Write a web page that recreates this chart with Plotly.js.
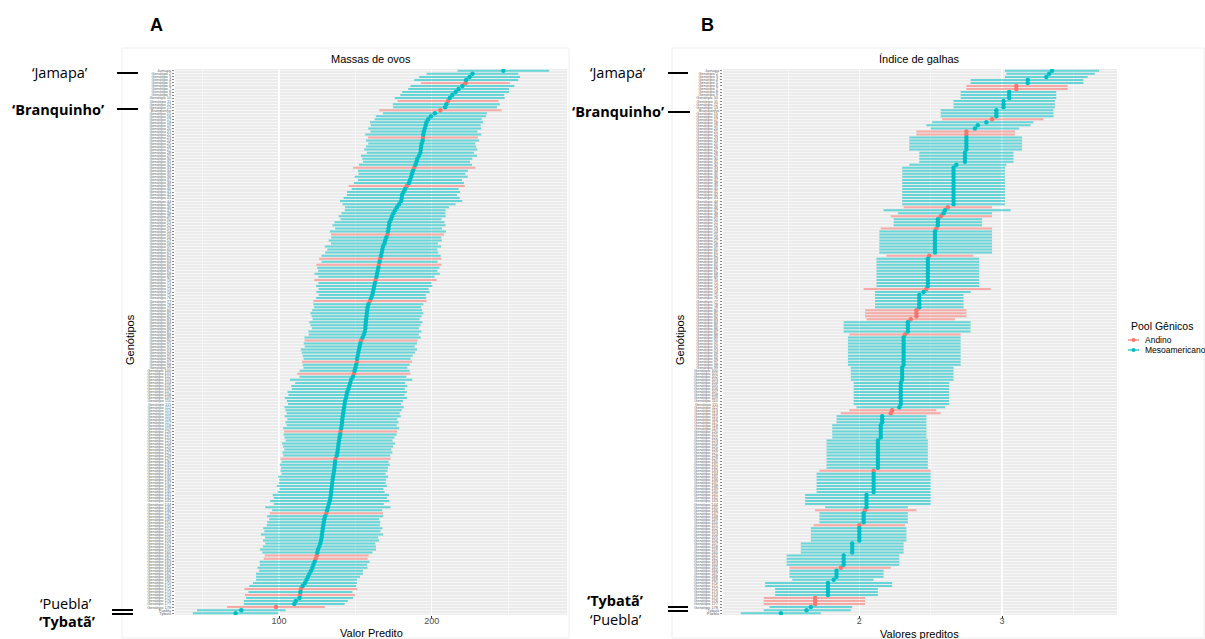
<!DOCTYPE html>
<html>
<head>
<meta charset="utf-8">
<script src="https://cdn.plot.ly/plotly-3.0.1.min.js"></script>
<style>html,body{margin:0;padding:0;background:#fff;}#chart{width:1205px;height:639px;}</style>
</head>
<body>
<div id="chart"></div>
<script>
// ---------- Painel A: Massas de ovos (valor predito e semi-amplitude do intervalo) ----------
const valoresA = [
 246.8,226.6,224.7,222.5,222.0,220.0,217.5,215.6,213.4,211.7,
 210.6,209.5,208.7,205.6,202.0,199.4,197.6,196.5,196.0,195.4,
 194.8,194.4,194.2,194.0,193.4,193.0,192.8,192.5,191.6,190.5,
 190.0,189.3,188.5,187.7,187.0,186.5,185.7,185.0,183.6,182.5,
 181.5,180.5,180.3,179.9,178.5,177.2,176.0,174.9,174.0,173.3,
 172.3,172.0,171.7,171.3,171.0,170.2,169.5,169.0,168.0,167.6,
 167.2,166.8,166.2,165.8,165.4,165.0,164.6,164.2,163.8,163.2,
 162.8,162.3,161.9,161.5,161.0,160.3,159.5,158.5,158.0,157.7,
 157.5,157.3,157.0,156.8,156.6,156.5,156.2,155.5,154.7,153.7,
 153.2,152.8,152.3,151.9,151.5,151.1,151.0,150.5,150.0,149.5,
 149.0,148.4,147.2,146.6,146.0,145.4,144.6,144.2,143.8,143.2,
 142.9,142.6,142.3,142.0,141.7,141.4,141.2,141.0,140.7,140.3,
 140.0,139.6,139.3,139.0,138.7,138.5,138.2,137.8,137.0,136.7,
 136.5,136.3,136.0,135.7,135.4,135.1,134.8,134.6,134.3,134.1,
 133.9,133.6,133.2,132.6,132.0,131.5,131.0,130.2,129.6,129.3,
 129.0,128.7,128.4,128.1,127.9,127.5,127.0,126.4,125.5,125.1,
 124.7,124.0,123.3,122.5,121.9,121.0,119.9,119.0,118.0,117.0,
 115.5,114.3,114.0,113.7,113.4,111.0,110.0,98.0,75.3,71.6
];
const erroA = [
 30,30,33,34,29,34,33,35,34,36,
 33,35,34,40,34,36,35,37,36,37,
 35,38,36,37,35,36,37,35,38,36,
 35,37,40,36,35,37,34,36,38,35,
 37,36,38,40,37,34,33,34,35,33,
 36,37,35,38,37,36,37,35,38,36,
 37,39,40,38,41,40,39,41,38,40,
 37,38,36,37,35,36,37,36,35,36,
 37,36,35,37,36,35,37,36,38,37,
 37,36,38,37,36,35,36,35,34,36,
 37,35,40,36,38,37,39,38,40,38,
 37,39,38,37,38,36,37,36,38,37,
 37,36,35,37,36,35,36,35,36,35,
 36,35,35,34,36,35,35,36,34,35,
 38,37,39,36,41,36,37,38,36,37,
 37,39,38,40,37,38,36,37,38,36,
 34,34,36,35,36,34,35,34,33,34,
 35,37,34,36,35,34,33,32,29,28
];
const poolA = [
 'M','M','M','M','A','M','M','M','M','M',
 'A','M','M','A','M','M','M','M','M','M',
 'M','M','A','M','M','M','M','M','M','M',
 'M','M','A','M','M','M','M','M','A','M',
 'M','M','M','M','M','M','M','M','M','M',
 'M','M','M','M','A','M','M','M','M','M',
 'M','M','A','M','A','M','M','M','M','A',
 'M','M','M','M','M','M','A','M','M','M',
 'M','M','M','M','M','M','M','M','M','A',
 'M','M','M','M','M','M','A','M','M','M',
 'A','M','M','M','M','M','M','M','M','M',
 'M','M','M','M','M','M','M','M','M','A',
 'M','M','M','M','M','M','M','M','A','M',
 'M','M','M','M','M','M','M','M','M','M',
 'M','M','M','M','M','M','A','M','M','M',
 'M','M','M','M','M','M','M','M','M','M',
 'A','A','M','M','M','M','M','M','M','M',
 'M','A','M','A','M','M','M','A','M','M'
];
const nomesA = {0: 'Jamapa', 13: 'Branquinho', 178: 'Puebla', 179: 'Tybatã'};

// ---------- Painel B: Índice de galhas (valor predito, limite inferior e superior) ----------
const valoresB = [
 3.35,3.33,3.31,3.18,3.18,3.10,3.10,3.05,3.05,3.05,
 3.01,3.01,3.01,2.96,2.96,2.96,2.93,2.89,2.83,2.81,
 2.75,2.75,2.75,2.75,2.75,2.75,2.75,2.74,2.74,2.74,
 2.74,2.68,2.66,2.66,2.66,2.66,2.66,2.66,2.66,2.66,
 2.66,2.66,2.66,2.66,2.66,2.62,2.60,2.59,2.57,2.55,
 2.55,2.55,2.54,2.53,2.53,2.53,2.53,2.53,2.53,2.53,
 2.53,2.49,2.48,2.48,2.48,2.48,2.48,2.48,2.48,2.48,
 2.48,2.48,2.47,2.45,2.42,2.42,2.42,2.42,2.42,2.40,
 2.40,2.40,2.36,2.34,2.34,2.34,2.34,2.32,2.31,2.31,
 2.31,2.31,2.31,2.31,2.31,2.31,2.31,2.31,2.30,2.30,
 2.30,2.30,2.30,2.29,2.29,2.29,2.29,2.29,2.29,2.29,
 2.29,2.28,2.23,2.22,2.16,2.16,2.16,2.15,2.15,2.15,
 2.15,2.15,2.13,2.13,2.13,2.13,2.13,2.13,2.13,2.13,
 2.13,2.13,2.10,2.10,2.10,2.10,2.10,2.10,2.10,2.10,
 2.05,2.05,2.05,2.05,2.05,2.04,2.03,2.03,2.03,2.03,
 2.00,2.00,2.00,2.00,2.00,2.00,1.95,1.95,1.95,1.95,
 1.89,1.89,1.89,1.89,1.87,1.84,1.84,1.84,1.82,1.78,
 1.78,1.78,1.78,1.78,1.69,1.69,1.69,1.66,1.63,1.45
];
const infB = [
 3.02,3.03,3.02,2.78,2.78,2.75,2.75,2.71,2.71,2.71,
 2.66,2.66,2.66,2.57,2.57,2.57,2.58,2.51,2.47,2.50,
 2.40,2.40,2.35,2.35,2.35,2.35,2.35,2.42,2.42,2.42,
 2.42,2.35,2.30,2.30,2.30,2.30,2.30,2.30,2.30,2.30,
 2.30,2.30,2.30,2.30,2.30,2.31,2.17,2.27,2.22,2.24,
 2.24,2.24,2.15,2.14,2.14,2.14,2.14,2.14,2.14,2.14,
 2.14,2.19,2.12,2.12,2.12,2.12,2.12,2.12,2.12,2.12,
 2.12,2.12,2.03,2.11,2.11,2.11,2.11,2.11,2.11,2.04,
 2.04,2.04,2.05,1.89,1.89,1.89,1.89,1.93,1.92,1.92,
 1.92,1.92,1.92,1.92,1.92,1.92,1.92,1.92,1.94,1.94,
 1.94,1.94,1.94,1.96,1.96,1.96,1.96,1.96,1.96,1.96,
 1.96,1.98,1.93,1.87,1.84,1.84,1.84,1.81,1.81,1.81,
 1.81,1.81,1.77,1.77,1.77,1.77,1.77,1.77,1.77,1.77,
 1.77,1.77,1.72,1.70,1.70,1.70,1.70,1.70,1.70,1.70,
 1.62,1.62,1.62,1.62,1.76,1.69,1.72,1.72,1.72,1.72,
 1.68,1.66,1.66,1.66,1.66,1.66,1.59,1.59,1.59,1.59,
 1.49,1.49,1.49,1.49,1.51,1.51,1.51,1.51,1.53,1.34,
 1.34,1.41,1.41,1.41,1.33,1.33,1.33,1.37,1.33,1.17
];
const supB = [
 3.68,3.65,3.60,3.57,3.57,3.46,3.46,3.38,3.38,3.38,
 3.37,3.37,3.37,3.36,3.36,3.36,3.29,3.22,3.20,3.12,
 3.09,3.09,3.14,3.14,3.14,3.14,3.14,3.08,3.08,3.08,
 3.08,3.03,3.02,3.02,3.02,3.02,3.02,3.02,3.02,3.02,
 3.02,3.02,3.02,3.02,3.02,2.93,3.06,2.93,2.93,2.86,
 2.86,2.86,2.93,2.93,2.93,2.93,2.93,2.93,2.93,2.93,
 2.93,2.80,2.84,2.84,2.84,2.84,2.84,2.84,2.84,2.84,
 2.84,2.84,2.92,2.78,2.73,2.73,2.73,2.73,2.73,2.75,
 2.75,2.75,2.67,2.78,2.78,2.78,2.78,2.71,2.71,2.71,
 2.71,2.71,2.71,2.71,2.71,2.71,2.71,2.71,2.66,2.66,
 2.66,2.66,2.66,2.63,2.63,2.63,2.63,2.63,2.63,2.63,
 2.63,2.60,2.54,2.57,2.47,2.47,2.47,2.47,2.47,2.47,
 2.47,2.47,2.48,2.48,2.48,2.48,2.48,2.48,2.48,2.48,
 2.48,2.48,2.50,2.50,2.50,2.50,2.50,2.50,2.50,2.50,
 2.50,2.50,2.50,2.50,2.34,2.40,2.34,2.34,2.34,2.34,
 2.32,2.33,2.33,2.33,2.33,2.33,2.31,2.31,2.31,2.31,
 2.28,2.28,2.28,2.28,2.22,2.17,2.17,2.17,2.10,2.23,
 2.23,2.13,2.13,2.13,2.04,2.04,2.04,1.95,1.94,1.73
];
const poolB = [
 'M','M','M','M','M','A','A','M','M','M',
 'M','M','M','M','M','M','A','M','M','M',
 'A','A','M','M','M','M','M','M','M','M',
 'M','M','M','M','M','M','M','M','M','M',
 'M','M','M','M','M','A','M','M','A','M',
 'M','M','A','M','M','M','M','M','M','M',
 'M','A','M','M','M','M','M','M','M','M',
 'M','M','A','M','M','M','M','M','M','A',
 'A','A','A','M','M','M','M','A','M','M',
 'M','M','M','M','M','M','M','M','M','M',
 'M','M','M','M','M','M','M','M','M','M',
 'M','M','A','A','M','M','M','M','M','M',
 'M','M','M','M','M','M','M','M','M','M',
 'M','M','A','M','M','M','M','M','M','M',
 'M','M','M','M','M','A','M','M','M','M',
 'A','M','M','M','M','M','M','M','M','M',
 'M','M','M','M','A','M','M','M','M','M',
 'M','M','M','M','A','A','A','M','M','M'
];
const nomesB = {0: 'Jamapa', 13: 'Branquinho', 178: 'Tybatã', 179: 'Puebla'};

const pools = {A: 'Andino', M: 'Mesoamericano'};
const coresPonto = {A: '#F8766D', M: '#00BFC4'};
const coresBarra = {A: 'rgba(248,118,109,0.58)', M: 'rgba(0,191,196,0.58)'};

// ---------- construção ----------
const W = 1205, H = 639;
const px = x => x / W;
const py = y => 1 - y / H;

const rotulosA = valoresA.map((_, i) => nomesA[i] || ('Genótipo ' + (i + 1)));
const rotulosB = valoresB.map((_, i) => nomesB[i] || ('Genótipo ' + (i + 1) + ' '));

const infA = valoresA.map((v, i) => v - erroA[i]);
const supA = valoresA.map((v, i) => v + erroA[i]);

function tracos(valores, inf, sup, pool, rotulos, xa, ya) {
  return ['A', 'M'].map(code => {
    const idx = valores.map((_, i) => i).filter(i => pool[i] === code);
    return {
      type: 'scatter', mode: 'markers', xaxis: xa, yaxis: ya,
      x: idx.map(i => valores[i]),
      y: idx.map(i => rotulos[i]),
      marker: {color: coresPonto[code], size: 4.5, line: {width: 0}},
      error_x: {
        type: 'data', symmetric: false,
        array: idx.map(i => sup[i] - valores[i]),
        arrayminus: idx.map(i => valores[i] - inf[i]),
        color: coresBarra[code], thickness: 2, width: 0
      },
      name: pools[code], showlegend: false, hoverinfo: 'x+y'
    };
  });
}

function faixa(inf, sup) {
  const lo = Math.min(...inf), hi = Math.max(...sup);
  const e = (hi - lo) * 0.05;
  return [lo - e, hi + e];
}

const data = [
  ...tracos(valoresA, infA, supA, poolA, rotulosA, 'x', 'y'),
  ...tracos(valoresB, infB, supB, poolB, rotulosB, 'x2', 'y2')
];

const yDomain = [py(615), py(69)];
function eixoX(dom, range, dtick, minor) {
  return {
    domain: dom, range: range, autorange: false,
    tickmode: 'linear', tick0: 0, dtick: dtick,
    showgrid: true, gridcolor: '#FFFFFF', gridwidth: 1.1,
    minor: {tick0: 0, dtick: minor, showgrid: true, gridcolor: '#FFFFFF', gridwidth: 0.5, ticks: ''},
    zeroline: false, showline: false,
    ticks: 'outside', ticklen: 2, tickwidth: 1, tickcolor: '#333333',
    tickfont: {size: 9, color: '#4D4D4D'}, ticklabelstandoff: -5,
    automargin: false, fixedrange: true
  };
}
function eixoY(rotulos, anchor) {
  return {
    domain: yDomain, type: 'category', categoryorder: 'array', categoryarray: rotulos,
    range: [rotulos.length - 0.4, -0.6], autorange: false, anchor: anchor,
    tickmode: 'array', tickvals: rotulos, ticktext: rotulos,
    tickfont: {size: 4, color: '#666666'},
    ticks: 'outside', ticklen: 2, tickwidth: 0.6, tickcolor: '#333333',
    showgrid: true, gridcolor: '#FFFFFF', gridwidth: 0.6,
    zeroline: false, showline: false, automargin: false, fixedrange: true
  };
}

function texto(t, x, y, size, extra) {
  return Object.assign({xref: 'paper', yref: 'paper', x: px(x), y: py(y), xanchor: 'center', yanchor: 'middle',
                        text: t, showarrow: false, font: {size: size, color: '#000000'}}, extra || {});
}
const fonteAnot = '"Open Sans", "Noto Sans", sans-serif';
function rotuloLateral(t, x, y, negrito) {
  return texto(negrito ? '<b>' + t + '</b>' : t, x, y, 14.5,
               {xanchor: 'left', font: {family: fonteAnot, size: 14.5, color: '#000000'}});
}
function linha(x0, x1, y, cor, w) {
  return {type: 'line', xref: 'paper', yref: 'paper', x0: px(x0), x1: px(x1), y0: py(y), y1: py(y),
          line: {color: cor || '#000000', width: w || 2}};
}
function ponto(x, y, cor) {
  return {type: 'circle', xref: 'paper', yref: 'paper', x0: px(x - 2), x1: px(x + 2), y0: py(y + 2), y1: py(y - 2),
          fillcolor: cor, line: {width: 0}};
}

const layout = {
  width: W, height: H,
  margin: {l: 0, r: 0, t: 0, b: 0, pad: 0, autoexpand: false},
  paper_bgcolor: '#FFFFFF', plot_bgcolor: '#EBEBEB',
  font: {family: '"Liberation Sans", Arial, sans-serif', color: '#000000'},
  showlegend: false,
  xaxis: eixoX([px(175), px(567)], faixa(infA, supA), 100, 50),
  yaxis: eixoY(rotulosA, 'x'),
  xaxis2: Object.assign(eixoX([px(723), px(1117)], faixa(infB, supB), 1, 0.5), {anchor: 'y2'}),
  yaxis2: eixoY(rotulosB, 'x2'),
  shapes: [
    {type: 'rect', xref: 'paper', yref: 'paper', x0: px(122), x1: px(569), y0: py(638), y1: py(48),
     line: {color: '#EEEEEE', width: 1}, fillcolor: 'rgba(0,0,0,0)', layer: 'below'},
    {type: 'rect', xref: 'paper', yref: 'paper', x0: px(672), x1: px(1204), y0: py(638), y1: py(48),
     line: {color: '#EEEEEE', width: 1}, fillcolor: 'rgba(0,0,0,0)', layer: 'below'},
    linha(117, 138, 73), linha(117, 138, 109), linha(112, 133, 610), linha(112, 133, 614),
    linha(668, 688, 73), linha(668, 690, 112), linha(668, 688, 607), linha(668, 688, 611),
    // legenda
    linha(1128, 1139, 340, coresPonto.A, 1.2), ponto(1133.5, 340, coresPonto.A),
    linha(1128, 1139, 350, coresPonto.M, 1.2), ponto(1133.5, 350, coresPonto.M)
  ],
  annotations: [
    texto('<b>A</b>', 156, 25, 18),
    texto('<b>B</b>', 707, 25, 18),
    texto('Massas de ovos', 371, 59, 11),
    texto('Índice de galhas', 920, 59, 11),
    texto('Genótipos', 130, 340, 11, {textangle: -90}),
    texto('Genótipos', 680, 340, 11, {textangle: -90}),
    texto('Valor Predito', 371, 633, 11),
    texto('Valores preditos', 920, 634, 11),
    texto('Pool Gênicos', 1129, 326, 10.5, {xanchor: 'left'}),
    texto(pools.A, 1143, 340, 8.5, {xanchor: 'left'}),
    texto(pools.M, 1143, 350, 8.5, {xanchor: 'left'}),
    rotuloLateral('‘Jamapa’', 30, 73, false),
    rotuloLateral('‘Branquinho’', 10, 109, true),
    rotuloLateral('‘Puebla’', 38, 603, false),
    rotuloLateral('‘Tybatã’', 37, 621, true),
    rotuloLateral('‘Jamapa’', 588, 73, false),
    rotuloLateral('‘Branquinho’', 570, 112, true),
    rotuloLateral('‘Tybatã’', 585, 600, true),
    rotuloLateral('‘Puebla’', 588, 619, false)
  ]
};

Plotly.newPlot('chart', data, layout, {staticPlot: true, displayModeBar: false});
</script>
</body>
</html>
